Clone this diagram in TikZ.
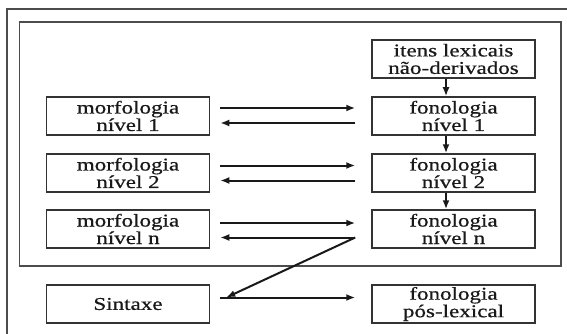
\documentclass[tikz,border=0pt]{standalone}
\usepackage{fontspec}
\setmainfont{Liberation Serif}[FakeStretch=1.28, FakeBold=0.6]
\usetikzlibrary{arrows.meta}

\begin{document}
\begin{tikzpicture}[x=1pt, y=-1pt,
    caixa/.style={draw=black!80, line width=1.5pt, minimum width=163pt, minimum height=38pt,
        inner sep=0pt, align=center, text=black!90, font=\fontsize{18}{17.5}\selectfont},
    seta/.style={black!90, line width=2pt, -{Latex[length=9pt,width=7pt]}},
    moldura/.style={black!70, line width=1.8pt}]

    % 1. Page size and white background
    \useasboundingbox (0,0) rectangle (567,334);
    \fill[white] (0,0) rectangle (567,334);

    % 2. The two frames (the outer one runs past the page edge)
    \draw[moldura] (7,345) -- (7,9) -- (580,9);
    \draw[moldura] (19.5,22) rectangle (561,266);

    % 3. Right column: phonology
    \node[caixa] (itens) at (453.5,59) {itens lexicais\\não-derivados};
    \node[caixa] (fon1) at (453.5,116) {fonologia\\nível 1};
    \node[caixa] (fon2) at (453.5,173) {fonologia\\nível 2};
    \node[caixa] (fonn) at (453.5,229) {fonologia\\nível n};
    \node[caixa] (fonpos) at (453.5,304) {fonologia\\pós-lexical};

    % 4. Left column: morphology and syntax
    \node[caixa] (morf1) at (128,116) {morfologia\\nível 1};
    \node[caixa] (morf2) at (128,173) {morfologia\\nível 2};
    \node[caixa] (morfn) at (128,229) {morfologia\\nível n};
    \node[caixa] (sint) at (128,304) {Sintaxe};

    % 5. Downward arrows in the right column
    \draw[seta] ([xshift=-7.5pt]itens.south) -- ([xshift=-7.5pt]fon1.north);
    \draw[seta] ([xshift=-7.5pt]fon1.south) -- ([xshift=-7.5pt]fon2.north);
    \draw[seta] ([xshift=-7.5pt]fon2.south) -- ([xshift=-7.5pt]fonn.north);

    % 6. Arrows back and forth between the levels
    \draw[seta] ([xshift=10pt,yshift=8pt]morf1.east) -- ([xshift=-16pt,yshift=8pt]fon1.west);
    \draw[seta] ([xshift=-16pt,yshift=-7pt]fon1.west) -- ([xshift=10pt,yshift=-7pt]morf1.east);
    \draw[seta] ([xshift=10pt,yshift=7.5pt]morf2.east) -- ([xshift=-16pt,yshift=7.5pt]fon2.west);
    \draw[seta] ([xshift=-16pt,yshift=-7.5pt]fon2.west) -- ([xshift=10pt,yshift=-7.5pt]morf2.east);
    \draw[seta] ([xshift=10pt,yshift=6pt]morfn.east) -- ([xshift=-16pt,yshift=6pt]fonn.west);
    \draw[seta] ([xshift=-16pt,yshift=-8.5pt]fonn.west) -- ([xshift=10pt,yshift=-8.5pt]morfn.east);

    % 7. Down to syntax, then on to post-lexical phonology
    \draw[seta] ([xshift=-16pt,yshift=-8.5pt]fonn.west) -- ([xshift=16pt,yshift=6.5pt]sint.east);
    \draw[seta] ([xshift=10pt,yshift=6.5pt]sint.east) -- ([xshift=-16pt,yshift=6.5pt]fonpos.west);

\end{tikzpicture}
\end{document}
